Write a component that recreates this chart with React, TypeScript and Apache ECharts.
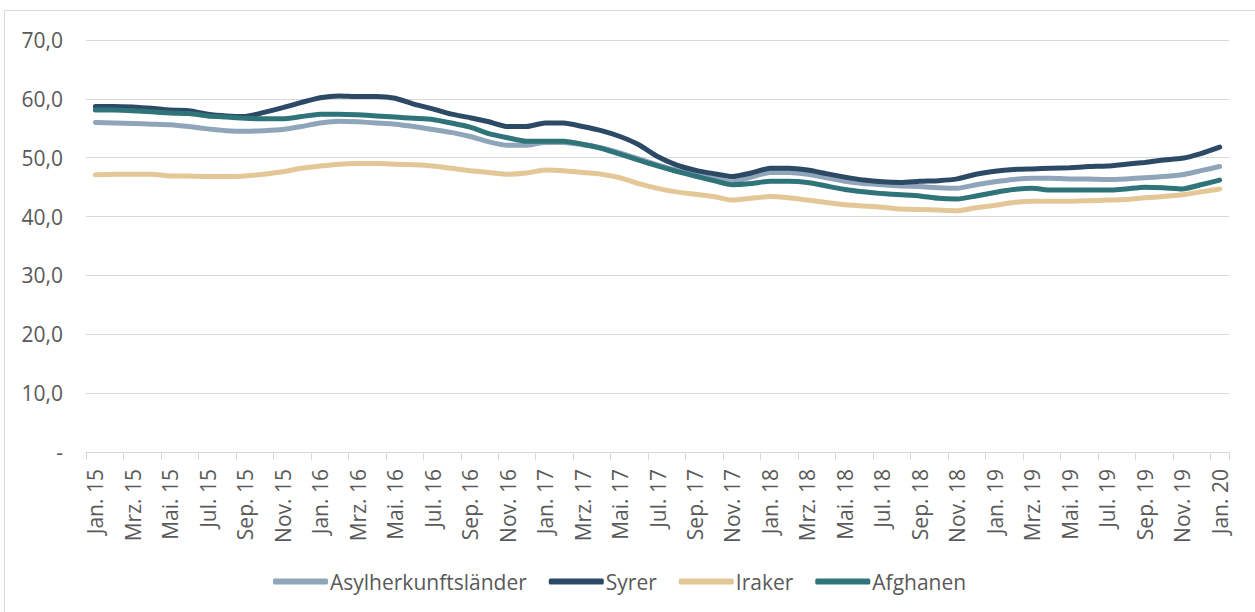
import React, { useEffect, useRef } from "react";
import * as echarts from "echarts";

const monthNames = ["Jan.", "Feb.", "Mrz.", "Apr.", "Mai.", "Jun.", "Jul.", "Aug.", "Sep.", "Okt.", "Nov.", "Dez."];
const years = ["15", "16", "17", "18", "19", "20"];
const categories: string[] = [];
years.forEach((y, yi) => {
  monthNames.forEach((m, mi) => {
    if (yi < 5 || mi === 0) categories.push(`${m} ${y}`);
  });
});

const asylherkunft = [
  56.0, 55.9, 55.8, 55.7, 55.6, 55.3, 54.9, 54.6, 54.5, 54.6, 54.8, 55.3,
  55.9, 56.2, 56.1, 55.9, 55.7, 55.3, 54.8, 54.3, 53.6, 52.7, 52.1, 52.1,
  52.6, 52.6, 52.2, 51.7, 50.8, 49.8, 48.8, 47.9, 47.2, 46.5, 45.9, 46.7,
  47.5, 47.5, 47.2, 46.6, 46.0, 45.6, 45.4, 45.2, 45.1, 44.9, 44.8, 45.4,
  45.9, 46.3, 46.5, 46.5, 46.4, 46.4, 46.3, 46.4, 46.6, 46.8, 47.1, 47.8,
  48.5,
];
const syrer = [
  58.7, 58.7, 58.6, 58.4, 58.1, 58.0, 57.4, 57.1, 57.0, 57.7, 58.5, 59.4,
  60.2, 60.5, 60.4, 60.4, 60.1, 59.1, 58.3, 57.4, 56.8, 56.1, 55.3, 55.3,
  55.9, 55.9, 55.3, 54.6, 53.6, 52.2, 50.2, 48.8, 47.9, 47.3, 46.8, 47.4,
  48.2, 48.2, 47.9, 47.3, 46.7, 46.2, 45.9, 45.8, 46.0, 46.1, 46.4, 47.2,
  47.7, 48.0, 48.1, 48.2, 48.3, 48.5, 48.6, 48.9, 49.2, 49.6, 49.9, 50.7,
  51.8,
];
const iraker = [
  47.1, 47.2, 47.2, 47.2, 46.9, 46.9, 46.8, 46.8, 46.9, 47.2, 47.6, 48.2,
  48.6, 48.9, 49.0, 49.0, 48.9, 48.8, 48.6, 48.2, 47.8, 47.5, 47.2, 47.4,
  47.9, 47.8, 47.5, 47.2, 46.6, 45.6, 44.8, 44.2, 43.8, 43.4, 42.8, 43.1,
  43.4, 43.2, 42.8, 42.4, 42.0, 41.8, 41.6, 41.3, 41.2, 41.1, 41.0, 41.5,
  41.9, 42.4, 42.6, 42.6, 42.6, 42.7, 42.8, 42.9, 43.2, 43.4, 43.7, 44.2,
  44.7,
];
const afghanen = [
  58.1, 58.1, 58.0, 57.8, 57.6, 57.5, 57.1, 56.9, 56.7, 56.6, 56.6, 57.0,
  57.4, 57.4, 57.3, 57.1, 56.9, 56.7, 56.5, 55.9, 55.2, 54.1, 53.4, 52.8,
  52.8, 52.8, 52.3, 51.6, 50.6, 49.6, 48.6, 47.7, 46.9, 46.1, 45.4, 45.6,
  46.0, 46.0, 45.8, 45.2, 44.6, 44.2, 43.9, 43.7, 43.5, 43.1, 43.0, 43.5,
  44.1, 44.6, 44.8, 44.5, 44.5, 44.5, 44.5, 44.7, 45.0, 44.9, 44.7, 45.4,
  46.2,
];

const seriesNames = ["Asylherkunftsländer", "Syrer", "Iraker", "Afghanen"];
const seriesColors = ["#8fa5ba", "#2c4a66", "#e3c796", "#2f7479"];
const seriesData = [asylherkunft, syrer, iraker, afghanen];

const FONT = "'Open Sans', 'Noto Sans', sans-serif";

export default function App() {
  const ref = useRef<HTMLDivElement>(null);
  useEffect(() => {
    if (!ref.current) return;
    const chart = echarts.init(ref.current, null, { renderer: "svg" });
    chart.setOption({
      animation: false,
      backgroundColor: "#ffffff",
      textStyle: { fontFamily: FONT },
      graphic: [
        {
          type: "rect",
          shape: { x: 4.5, y: 10.5, width: 1260, height: 610 },
          style: { fill: "none", stroke: "#d9d9d9", lineWidth: 1 },
          silent: true,
        },
      ],
      grid: { left: 86, right: 26, top: 40, bottom: 160 },
      legend: {
        data: seriesNames,
        left: 268,
        top: 566,
        icon: "roundRect",
        itemWidth: 55,
        itemHeight: 6,
        itemGap: 22,
        textStyle: { fontFamily: FONT, fontSize: 21, color: "#595959", padding: [0, 0, 0, -3] },
      },
      xAxis: {
        type: "category",
        data: categories,
        boundaryGap: true,
        axisLine: { lineStyle: { color: "#d9d9d9", width: 1 } },
        axisTick: { show: true, interval: 1, length: 8, lineStyle: { color: "#d9d9d9" } },
        axisLabel: {
          interval: 1,
          rotate: 90,
          margin: 17,
          fontFamily: FONT,
          fontSize: 21,
          color: "#595959",
        },
        splitLine: { show: false },
      },
      yAxis: {
        type: "value",
        min: 0,
        max: 70,
        interval: 10,
        axisLine: { show: false },
        axisTick: { show: false },
        axisLabel: {
          margin: 23,
          fontFamily: FONT,
          fontSize: 21,
          color: "#595959",
          formatter: (v: number) => (v === 0 ? "-" : v.toFixed(1).replace(".", ",")),
        },
        splitLine: { lineStyle: { color: "#d9d9d9", width: 1 } },
      },
      series: seriesNames.map((name, i) => ({
        name,
        type: "line",
        data: seriesData[i],
        showSymbol: false,
        symbol: "none",
        smooth: 0.2,
        color: seriesColors[i],
        lineStyle: { width: 5, color: seriesColors[i], cap: "round", join: "round" },
      })),
    });
    return () => chart.dispose();
  }, []);
  return (
    <div
      ref={ref}
      style={{ position: "absolute", left: 0, top: 0, width: 1255, height: 612 }}
    />
  );
}
